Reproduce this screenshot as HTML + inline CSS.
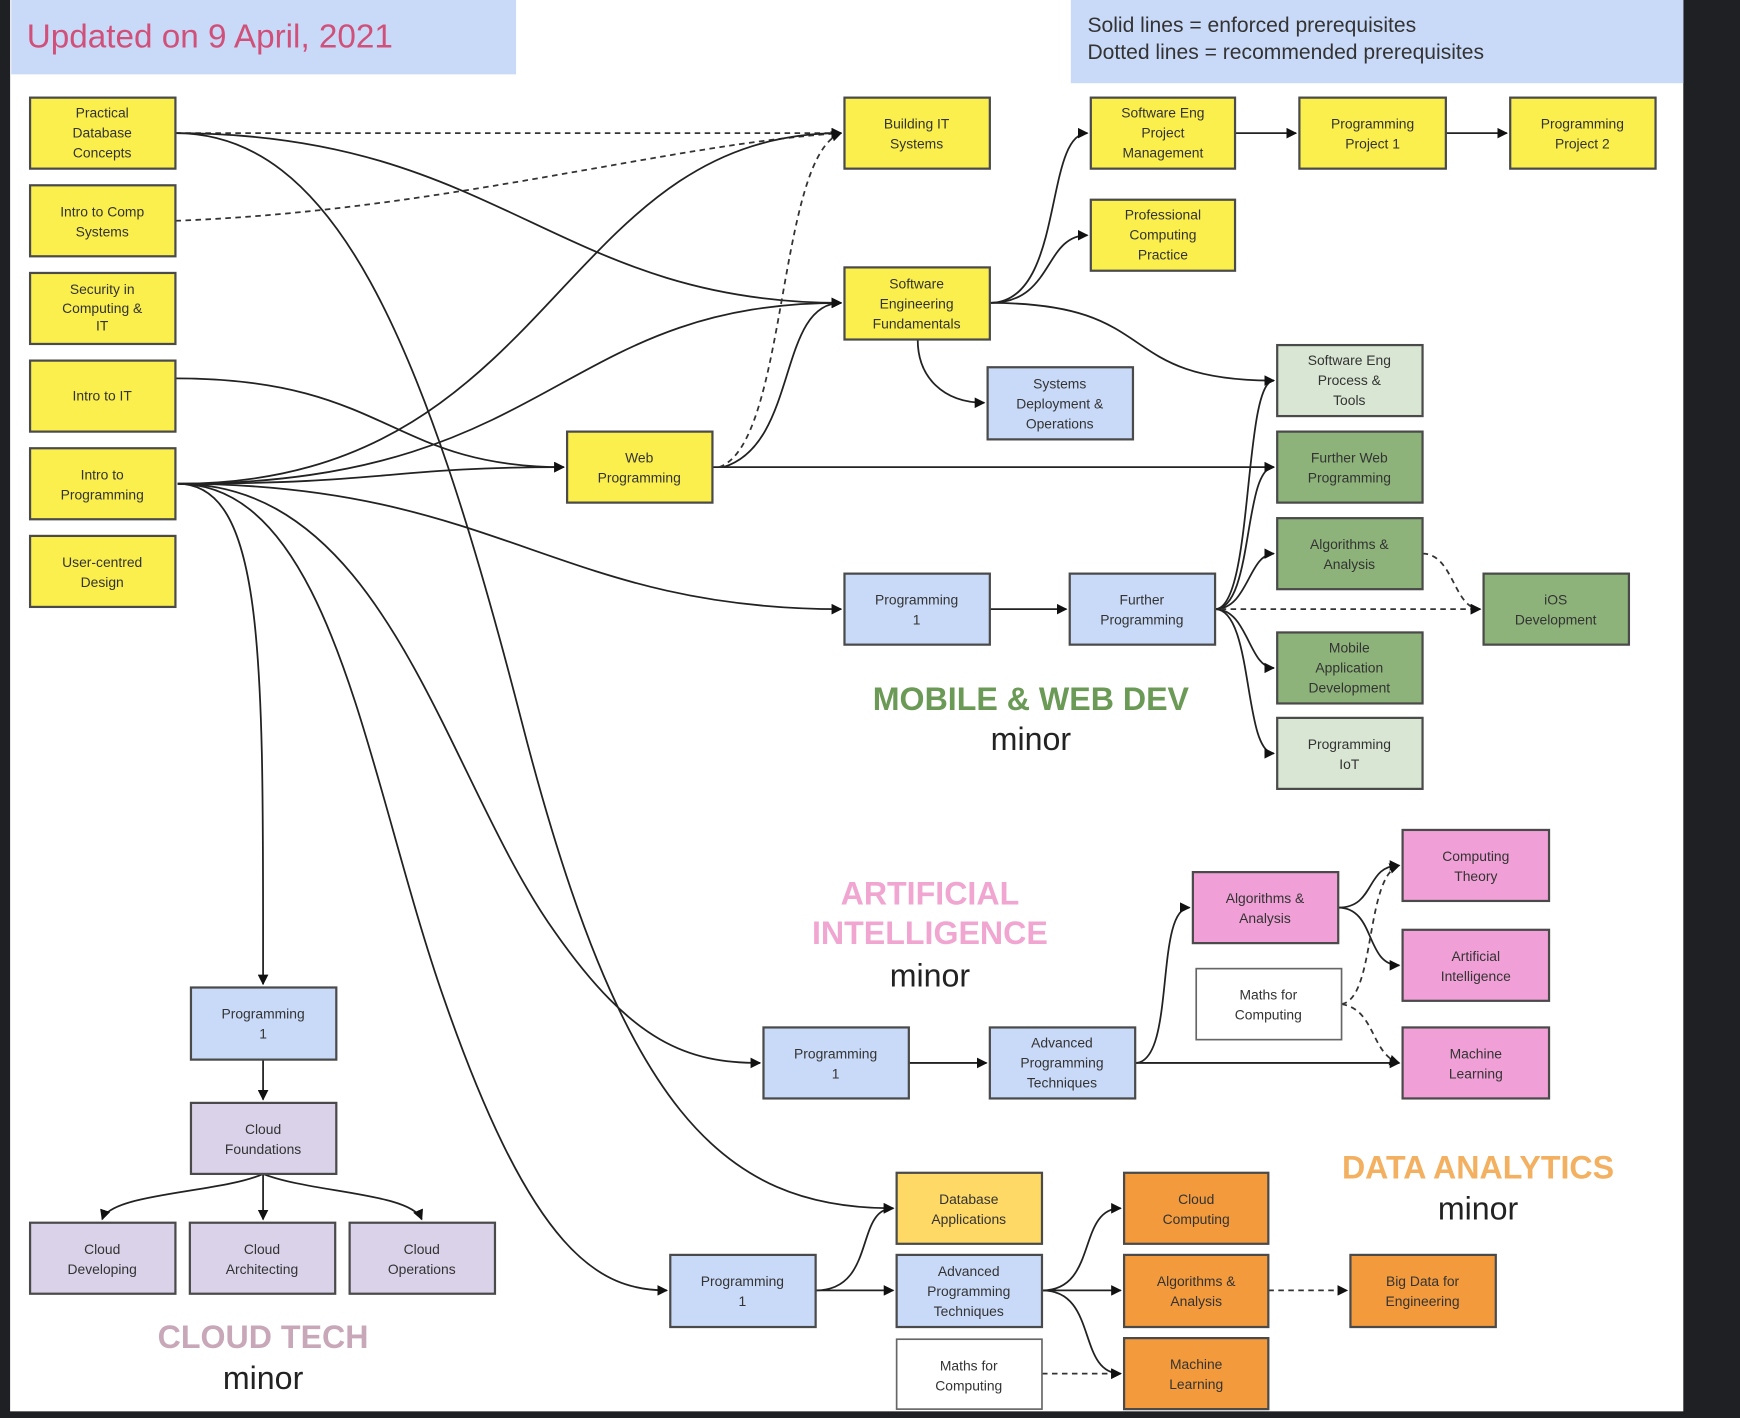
<!DOCTYPE html>
<html><head><meta charset="utf-8"><style>
html,body{margin:0;padding:0;background:#1f2023;}
svg{display:block}
text{font-family:"Liberation Sans",Arial,sans-serif;}
.b{stroke:#4a4a4a;stroke-width:2}
.t{font-size:12.5px;fill:#333;text-anchor:middle}
.e{fill:none;stroke:#222;stroke-width:1.6}
.d{fill:none;stroke:#333;stroke-width:1.6;stroke-dasharray:5 4}
</style></head><body>
<svg width="1740" height="1418" viewBox="0 0 1568 1278" xmlns="http://www.w3.org/2000/svg">
<defs><marker id="a" viewBox="0 0 10 10" refX="9" refY="5" markerWidth="6" markerHeight="6" orient="auto"><path d="M0,0L10,5L0,10z" fill="#111"/></marker></defs>
<rect x="0" y="0" width="1568" height="1278" fill="#1f2023"/>
<rect x="9" y="0" width="1508" height="1272" fill="#fff"/>
<rect x="10" y="0" width="455" height="67" fill="#c9daf8"/>
<text x="24" y="43" style="font-size:30px;fill:#d0507a">Updated on 9 April, 2021</text>
<rect x="965" y="0" width="552" height="75" fill="#c9daf8"/>
<text x="980" y="29" style="font-size:19px;fill:#333">Solid lines = enforced prerequisites</text>
<text x="980" y="53" style="font-size:19px;fill:#333">Dotted lines = recommended prerequisites</text>

<!-- edges -->
<g>
<path class="d" d="M158,120 L758,120" marker-end="url(#a)"/>
<path class="d" d="M158,199 C400,190 600,130 758,120" marker-end="url(#a)"/>
<path class="e" d="M158,120 C450,120 500,273 758,273" marker-end="url(#a)"/>
<path class="e" d="M158,120 C300,120 380,300 470,650 C560,1000 650,1089 805,1089" marker-end="url(#a)"/>
<path class="e" d="M158,341 C350,341 350,421 508,421" marker-end="url(#a)"/>
<path class="e" d="M160,436 C350,436 350,421 508,421" marker-end="url(#a)"/>
<path class="e" d="M160,436 C500,436 500,120 758,120" marker-end="url(#a)"/>
<path class="e" d="M160,436 C500,436 500,273 758,273" marker-end="url(#a)"/>
<path class="e" d="M160,436 C450,436 500,549 758,549" marker-end="url(#a)"/>
<path class="e" d="M160,436 C240,436 237,600 237,887" marker-end="url(#a)"/>
<path class="e" d="M160,436 C350,436 400,700 500,840 C570,940 620,958 685,958" marker-end="url(#a)"/>
<path class="e" d="M160,436 C300,436 330,700 400,900 C480,1130 540,1163 601,1163" marker-end="url(#a)"/>
<path class="e" d="M642,421 L1148,421" marker-end="url(#a)"/>
<path class="d" d="M648,421 C710,400 700,140 758,120" marker-end="url(#a)"/>
<path class="e" d="M652,421 C720,400 700,273 758,273" marker-end="url(#a)"/>
<path class="e" d="M892,273 C960,273 940,120 980,120" marker-end="url(#a)"/>
<path class="e" d="M892,273 C950,273 940,212 980,212" marker-end="url(#a)"/>
<path class="e" d="M892,273 C1050,273 1000,343 1148,343" marker-end="url(#a)"/>
<path class="e" d="M827,306 C827,340 850,363 887,363" marker-end="url(#a)"/>
<path class="e" d="M1113,120 L1168,120" marker-end="url(#a)"/>
<path class="e" d="M1303,120 L1358,120" marker-end="url(#a)"/>
<path class="e" d="M892,549 L961,549" marker-end="url(#a)"/>
<path class="e" d="M1095,549 C1130,549 1120,343 1148,343" marker-end="url(#a)"/>
<path class="e" d="M1095,549 C1130,549 1120,421 1148,421" marker-end="url(#a)"/>
<path class="e" d="M1095,549 C1125,549 1125,499 1148,499" marker-end="url(#a)"/>
<path class="e" d="M1095,549 C1125,549 1125,602 1148,602" marker-end="url(#a)"/>
<path class="e" d="M1095,549 C1130,549 1120,679 1148,679" marker-end="url(#a)"/>
<path class="d" d="M1100,549 L1334,549" marker-end="url(#a)"/>
<path class="d" d="M1282,499 C1310,499 1310,549 1334,549" marker-end="url(#a)"/>
<path class="e" d="M237,955 L237,991" marker-end="url(#a)"/>
<path class="e" d="M237,1058 C200,1075 100,1075 92,1099" marker-end="url(#a)"/>
<path class="e" d="M237,1058 L237,1099" marker-end="url(#a)"/>
<path class="e" d="M237,1058 C280,1075 370,1075 380,1099" marker-end="url(#a)"/>
<path class="e" d="M819,958 L889,958" marker-end="url(#a)"/>
<path class="e" d="M1023,958 C1060,958 1040,818 1072,818" marker-end="url(#a)"/>
<path class="e" d="M1023,958 L1261,958" marker-end="url(#a)"/>
<path class="e" d="M1206,818 C1240,818 1230,780 1261,780" marker-end="url(#a)"/>
<path class="e" d="M1206,818 C1240,818 1230,870 1261,870" marker-end="url(#a)"/>
<path class="d" d="M1209,905 C1240,900 1230,790 1261,780" marker-end="url(#a)"/>
<path class="d" d="M1209,905 C1240,910 1235,950 1261,958" marker-end="url(#a)"/>
<path class="e" d="M735,1163 C790,1163 770,1089 805,1089" marker-end="url(#a)"/>
<path class="e" d="M735,1163 L805,1163" marker-end="url(#a)"/>
<path class="e" d="M939,1163 C990,1163 970,1089 1010,1089" marker-end="url(#a)"/>
<path class="e" d="M939,1163 L1010,1163" marker-end="url(#a)"/>
<path class="e" d="M939,1163 C990,1163 970,1238 1010,1238" marker-end="url(#a)"/>
<path class="d" d="M939,1238 L1010,1238" marker-end="url(#a)"/>
<path class="d" d="M1143,1163 L1214,1163" marker-end="url(#a)"/>
</g>

<!-- boxes -->
<g>
<rect class="b" x="27" y="88" width="131" height="64" fill="#fbef4e"/><text class="t" x="92" y="106">Practical<tspan x="92" dy="18">Database</tspan><tspan x="92" dy="18">Concepts</tspan></text>
<rect class="b" x="27" y="167" width="131" height="64" fill="#fbef4e"/><text class="t" x="92" y="195">Intro to Comp<tspan x="92" dy="18">Systems</tspan></text>
<rect class="b" x="27" y="246" width="131" height="64" fill="#fbef4e"/><text class="t" x="92" y="265">Security in<tspan x="92" dy="17">Computing &amp;</tspan><tspan x="92" dy="16">IT</tspan></text>
<rect class="b" x="27" y="325" width="131" height="64" fill="#fbef4e"/><text class="t" x="92" y="361">Intro to IT</text>
<rect class="b" x="27" y="404" width="131" height="64" fill="#fbef4e"/><text class="t" x="92" y="432">Intro to<tspan x="92" dy="18">Programming</tspan></text>
<rect class="b" x="27" y="483" width="131" height="64" fill="#fbef4e"/><text class="t" x="92" y="511">User-centred<tspan x="92" dy="18">Design</tspan></text>

<rect class="b" x="761" y="88" width="131" height="64" fill="#fbef4e"/><text class="t" x="826" y="116">Building IT<tspan x="826" dy="18">Systems</tspan></text>
<rect class="b" x="983" y="88" width="130" height="64" fill="#fbef4e"/><text class="t" x="1048" y="106">Software Eng<tspan x="1048" dy="18">Project</tspan><tspan x="1048" dy="18">Management</tspan></text>
<rect class="b" x="1171" y="88" width="132" height="64" fill="#fbef4e"/><text class="t" x="1237" y="116">Programming<tspan x="1237" dy="18">Project 1</tspan></text>
<rect class="b" x="1361" y="88" width="131" height="64" fill="#fbef4e"/><text class="t" x="1426" y="116">Programming<tspan x="1426" dy="18">Project 2</tspan></text>
<rect class="b" x="983" y="180" width="130" height="64" fill="#fbef4e"/><text class="t" x="1048" y="198">Professional<tspan x="1048" dy="18">Computing</tspan><tspan x="1048" dy="18">Practice</tspan></text>
<rect class="b" x="761" y="241" width="131" height="65" fill="#fbef4e"/><text class="t" x="826" y="260">Software<tspan x="826" dy="18">Engineering</tspan><tspan x="826" dy="18">Fundamentals</tspan></text>
<rect class="b" x="890" y="331" width="131" height="65" fill="#c9daf8"/><text class="t" x="955" y="350">Systems<tspan x="955" dy="18">Deployment &amp;</tspan><tspan x="955" dy="18">Operations</tspan></text>
<rect class="b" x="511" y="389" width="131" height="64" fill="#fbef4e"/><text class="t" x="576" y="417">Web<tspan x="576" dy="18">Programming</tspan></text>

<rect class="b" x="1151" y="311" width="131" height="64" fill="#d9e6d3"/><text class="t" x="1216" y="329">Software Eng<tspan x="1216" dy="18">Process &amp;</tspan><tspan x="1216" dy="18">Tools</tspan></text>
<rect class="b" x="1151" y="389" width="131" height="64" fill="#8db37a"/><text class="t" x="1216" y="417">Further Web<tspan x="1216" dy="18">Programming</tspan></text>
<rect class="b" x="1151" y="467" width="131" height="64" fill="#8db37a"/><text class="t" x="1216" y="495">Algorithms &amp;<tspan x="1216" dy="18">Analysis</tspan></text>
<rect class="b" x="1337" y="517" width="131" height="64" fill="#8db37a"/><text class="t" x="1402" y="545">iOS<tspan x="1402" dy="18">Development</tspan></text>
<rect class="b" x="1151" y="570" width="131" height="64" fill="#8db37a"/><text class="t" x="1216" y="588">Mobile<tspan x="1216" dy="18">Application</tspan><tspan x="1216" dy="18">Development</tspan></text>
<rect class="b" x="1151" y="647" width="131" height="64" fill="#d9e6d3"/><text class="t" x="1216" y="675">Programming<tspan x="1216" dy="18">IoT</tspan></text>
<rect class="b" x="761" y="517" width="131" height="64" fill="#c9daf8"/><text class="t" x="826" y="545">Programming<tspan x="826" dy="18">1</tspan></text>
<rect class="b" x="964" y="517" width="131" height="64" fill="#c9daf8"/><text class="t" x="1029" y="545">Further<tspan x="1029" dy="18">Programming</tspan></text>

<rect class="b" x="1075" y="786" width="131" height="64" fill="#f0a0d6"/><text class="t" x="1140" y="814">Algorithms &amp;<tspan x="1140" dy="18">Analysis</tspan></text>
<rect class="b" x="1264" y="748" width="132" height="64" fill="#f0a0d6"/><text class="t" x="1330" y="776">Computing<tspan x="1330" dy="18">Theory</tspan></text>
<rect class="b" x="1264" y="838" width="132" height="64" fill="#f0a0d6"/><text class="t" x="1330" y="866">Artificial<tspan x="1330" dy="18">Intelligence</tspan></text>
<rect x="1078" y="873" width="131" height="64" fill="#fff" stroke="#666" stroke-width="1.5"/><text class="t" x="1143" y="901">Maths for<tspan x="1143" dy="18">Computing</tspan></text>
<rect class="b" x="1264" y="926" width="132" height="64" fill="#f0a0d6"/><text class="t" x="1330" y="954">Machine<tspan x="1330" dy="18">Learning</tspan></text>
<rect class="b" x="688" y="926" width="131" height="64" fill="#c9daf8"/><text class="t" x="753" y="954">Programming<tspan x="753" dy="18">1</tspan></text>
<rect class="b" x="892" y="926" width="131" height="64" fill="#c9daf8"/><text class="t" x="957" y="944">Advanced<tspan x="957" dy="18">Programming</tspan><tspan x="957" dy="18">Techniques</tspan></text>

<rect class="b" x="172" y="890" width="131" height="65" fill="#c9daf8"/><text class="t" x="237" y="918">Programming<tspan x="237" dy="18">1</tspan></text>
<rect class="b" x="172" y="994" width="131" height="64" fill="#d9d2e9"/><text class="t" x="237" y="1022">Cloud<tspan x="237" dy="18">Foundations</tspan></text>
<rect class="b" x="27" y="1102" width="131" height="64" fill="#d9d2e9"/><text class="t" x="92" y="1130">Cloud<tspan x="92" dy="18">Developing</tspan></text>
<rect class="b" x="171" y="1102" width="131" height="64" fill="#d9d2e9"/><text class="t" x="236" y="1130">Cloud<tspan x="236" dy="18">Architecting</tspan></text>
<rect class="b" x="315" y="1102" width="131" height="64" fill="#d9d2e9"/><text class="t" x="380" y="1130">Cloud<tspan x="380" dy="18">Operations</tspan></text>

<rect class="b" x="604" y="1131" width="131" height="65" fill="#c9daf8"/><text class="t" x="669" y="1159">Programming<tspan x="669" dy="18">1</tspan></text>
<rect class="b" x="808" y="1057" width="131" height="64" fill="#ffd966"/><text class="t" x="873" y="1085">Database<tspan x="873" dy="18">Applications</tspan></text>
<rect class="b" x="808" y="1131" width="131" height="65" fill="#c9daf8"/><text class="t" x="873" y="1150">Advanced<tspan x="873" dy="18">Programming</tspan><tspan x="873" dy="18">Techniques</tspan></text>
<rect x="808" y="1207" width="131" height="63" fill="#fff" stroke="#666" stroke-width="1.5"/><text class="t" x="873" y="1235">Maths for<tspan x="873" dy="18">Computing</tspan></text>
<rect class="b" x="1013" y="1057" width="130" height="64" fill="#f39a3c"/><text class="t" x="1078" y="1085">Cloud<tspan x="1078" dy="18">Computing</tspan></text>
<rect class="b" x="1013" y="1131" width="130" height="65" fill="#f39a3c"/><text class="t" x="1078" y="1159">Algorithms &amp;<tspan x="1078" dy="18">Analysis</tspan></text>
<rect class="b" x="1013" y="1206" width="130" height="64" fill="#f39a3c"/><text class="t" x="1078" y="1234">Machine<tspan x="1078" dy="18">Learning</tspan></text>
<rect class="b" x="1217" y="1131" width="131" height="65" fill="#f39a3c"/><text class="t" x="1282" y="1159">Big Data for<tspan x="1282" dy="18">Engineering</tspan></text>
</g>

<!-- labels -->
<g style="text-anchor:middle;font-weight:bold;font-size:29px">
<text x="929" y="640" fill="#6a9a56">MOBILE &amp; WEB DEV</text>
<text x="838" y="815" fill="#f0a6d0">ARTIFICIAL</text>
<text x="838" y="851" fill="#f0a6d0">INTELLIGENCE</text>
<text x="1332" y="1062" fill="#f2b060">DATA ANALYTICS</text>
<text x="237" y="1215" fill="#c8a8b8">CLOUD TECH</text>
</g>
<g style="text-anchor:middle;font-size:29px;fill:#222">
<text x="929" y="676">minor</text>
<text x="838" y="889">minor</text>
<text x="1332" y="1099">minor</text>
<text x="237" y="1252">minor</text>
</g>
</svg>
</body></html>
